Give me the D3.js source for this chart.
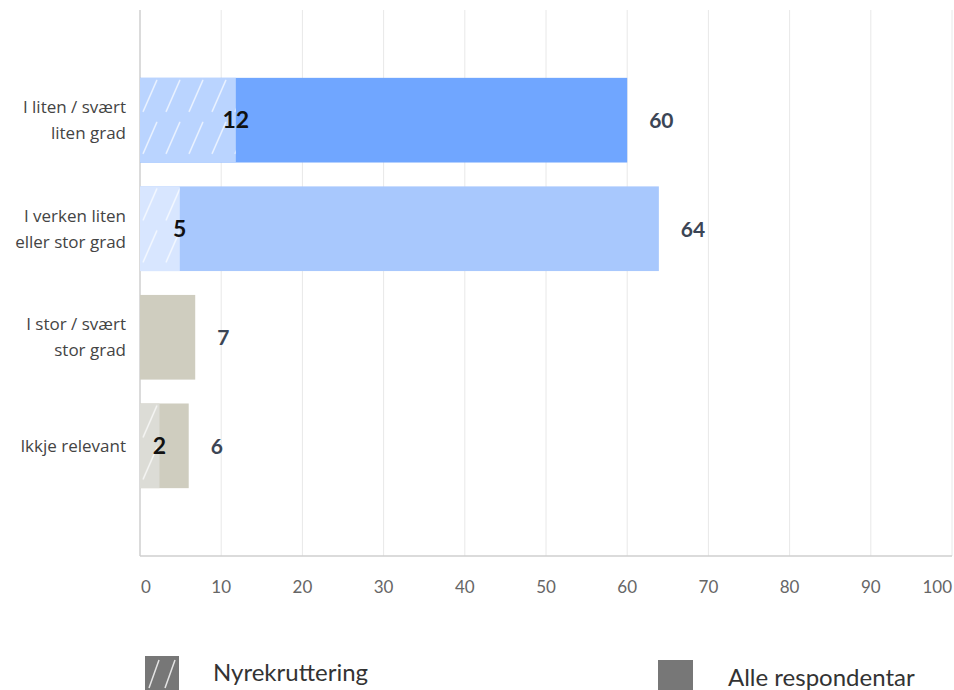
<!DOCTYPE html>
<html><head><meta charset="utf-8">
<script src="https://cdn.jsdelivr.net/npm/d3@7"></script>
<style>body{margin:0;background:#fff}svg{display:block}</style>
</head><body><svg id="c" width="954" height="690"></svg>
<script>
const categories = [["I liten / svært","liten grad"],["I verken liten","eller stor grad"],["I stor / svært","stor grad"],["Ikkje relevant"]];
const alleValues = [60, 63.9, 6.8, 6];
const nyrekValues = [11.8, 4.9, null, 2.4];
const xTicks = [0,10,20,30,40,50,60,70,80,90,100];
const legendLabels = ["Nyrekruttering","Alle respondentar"];
const mainColors = ["#70a6ff","#a8c8fd","#cfcdbf","#cfcdbf"];
const hatchColors = ["#bad4ff","#d8e6ff","#dcdcd6","#dcdcd6"];

(function(){
const svg = d3.select("#c");
const pLeft = 140, pRight = 952, pTop = 10, pBottom = 556;
const x = d3.scaleLinear().domain([0,100]).range([pLeft,pRight]);
const y = d3.scaleBand().domain(d3.range(categories.length)).range([pTop,pBottom]).paddingInner(0.22).paddingOuter(0.625);
const fmt = v => Math.round(v);

const data = categories.map((c,i)=>({i, cat:c, alle:alleValues[i], nyrek:nyrekValues[i]}));

const defs = svg.append("defs");
hatchColors.forEach((c,i)=>{
  const p = defs.append("pattern").attr("id","h"+i).attr("patternUnits","userSpaceOnUse")
    .attr("width",23).attr("height",42).attr("x",pLeft).attr("y",y(i)-4);
  p.append("rect").attr("width",23).attr("height",42).attr("fill",c);
  p.append("path").attr("d","M3,38 L17,6").attr("stroke","#fff").attr("stroke-opacity",0.7).attr("stroke-width",1.5);
});
const lp = defs.append("pattern").attr("id","hl").attr("patternUnits","userSpaceOnUse")
  .attr("width",34).attr("height",34).attr("x",145).attr("y",656);
lp.append("rect").attr("width",34).attr("height",34).attr("fill","#777");
lp.append("path").attr("d","M4,32 L14,4 M20,32 L30,4").attr("stroke","#fff").attr("stroke-opacity",0.8).attr("stroke-width",1.5);

svg.append("g").selectAll("line").data(xTicks.slice(1)).join("line")
  .attr("x1",d=>x(d)).attr("x2",d=>x(d)).attr("y1",pTop).attr("y2",pBottom)
  .attr("stroke","#e8e8e8").attr("stroke-width",1);
svg.append("line").attr("x1",pLeft).attr("x2",pLeft).attr("y1",pTop).attr("y2",pBottom).attr("stroke","#cfcfcf").attr("stroke-width",1.5);
svg.append("line").attr("x1",pLeft).attr("x2",pRight).attr("y1",pBottom).attr("y2",pBottom).attr("stroke","#cfcfcf").attr("stroke-width",1.5);

svg.append("g").selectAll("text").data(xTicks).join("text")
  .attr("x",d=> d===0 ? x(d)+1 : x(d))
  .attr("y",593)
  .attr("text-anchor",d=> d===0 ? "start" : d===100 ? "end" : "middle")
  .attr("font-family","Lato").attr("font-size",17).attr("fill","#666")
  .text(d=>d);

const rows = svg.append("g").selectAll("g").data(data).join("g");
rows.append("rect").attr("x",x(0)).attr("y",d=>y(d.i)).attr("width",d=>x(d.alle)-x(0)).attr("height",y.bandwidth())
  .attr("fill",d=>mainColors[d.i]);
const ny = rows.filter(d=>d.nyrek!=null);
ny.append("rect")
  .attr("x",x(0)).attr("y",d=>y(d.i)).attr("width",d=>x(d.nyrek)-x(0)).attr("height",y.bandwidth())
  .attr("fill",d=>"url(#h"+d.i+")");
rows.append("text").attr("x",d=>x(d.alle)+22).attr("y",d=>y(d.i)+y.bandwidth()/2+8)
  .attr("font-family","Lato").attr("font-weight","bold").attr("font-size",21).attr("fill","#3b4555").text(d=>fmt(d.alle));
ny.append("text")
  .attr("x",d=>x(d.nyrek)).attr("y",d=>y(d.i)+y.bandwidth()/2+8).attr("text-anchor","middle")
  .attr("font-family","Lato").attr("font-weight","bold").attr("font-size",23).attr("fill","#111").text(d=>fmt(d.nyrek));

const yl = svg.append("g").selectAll("text").data(data).join("text")
  .attr("text-anchor","end").attr("font-family","Open Sans").attr("font-size",17).attr("fill","#444");
yl.each(function(d){
  const t = d3.select(this);
  const cy = y(d.i)+y.bandwidth()/2;
  const start = cy - (d.cat.length-1)*26/2 + 6;
  d.cat.forEach((l,j)=>t.append("tspan").attr("x",126).attr("y",start+j*26).text(l));
});

svg.append("rect").attr("x",145).attr("y",656).attr("width",34).attr("height",34).attr("fill","url(#hl)");
svg.append("text").attr("x",213).attr("y",681).attr("font-family","Lato").attr("font-size",24).attr("fill","#333").text(legendLabels[0]);
svg.append("rect").attr("x",658).attr("y",660).attr("width",35).attr("height",30).attr("fill","#777");
svg.append("text").attr("x",728).attr("y",686).attr("font-family","Lato").attr("font-size",24).attr("fill","#333").text(legendLabels[1]);
})();
</script></body></html>
